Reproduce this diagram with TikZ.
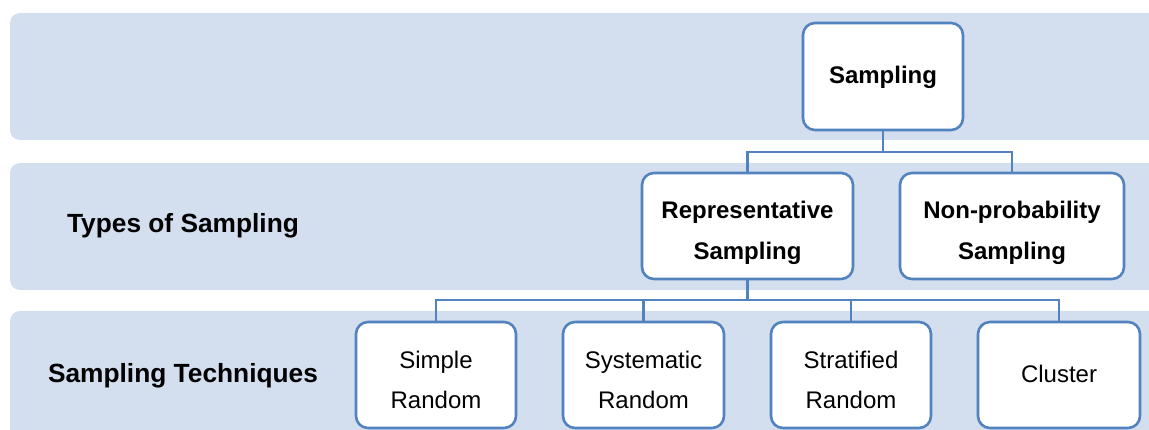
\documentclass[tikz,border=0pt]{standalone}
\usepackage{fontspec}
\setmainfont{Liberation Sans}
\definecolor{bandcol}{RGB}{211,222,238}
\definecolor{edgecol}{RGB}{82,131,190}
\begin{document}
\begin{tikzpicture}[x=1pt,y=-1pt,
  bandbox/.style={fill=bandcol, rounded corners=10pt},
  treebox/.style={draw=edgecol, line width=2.6pt, fill=white, rounded corners=12pt,
    align=center, inner sep=0pt, minimum height=106pt},
  twoline/.style={text height=67pt, text depth=0pt},
  boldtxt/.style={font=\bfseries\fontsize{24}{41}\selectfont},
  regtxt/.style={font=\fontsize{24}{40}\selectfont},
  bandlabel/.style={font=\bfseries\fontsize{26.3}{30}\selectfont, anchor=center},
  conn/.style={draw=edgecol, line width=2.6pt}]
\useasboundingbox (0,0) rectangle (1149,430);
\clip (0,0) rectangle (1149,430);
% bands
\fill[bandbox] (10,13) rectangle (1175,140);
\fill[bandbox] (10,163) rectangle (1175,290);
\fill[bandbox] (10,311) rectangle (1175,470);
% band labels
\node[bandlabel] (lt) at (183,226) {Types of Sampling};
\node[bandlabel] (ls) at (183,376) {Sampling Techniques};
% tree boxes
\node[treebox, boldtxt, minimum width=160pt, minimum height=107pt, text height=20pt, text depth=5pt] (samp) at (883,76.5) {Sampling};
\node[treebox, boldtxt, twoline, minimum width=211pt] (rep) at (747.5,226) {Representative\\Sampling};
\node[treebox, boldtxt, twoline, minimum width=224pt] (nonp) at (1012,226) {Non-probability\\Sampling};
\node[treebox, regtxt, twoline, minimum width=160pt] (simp) at (436,375) {Simple\\Random};
\node[treebox, regtxt, twoline, minimum width=161pt] (syst) at (643.5,375) {Systematic\\Random};
\node[treebox, regtxt, twoline, minimum width=160pt] (strat) at (851,375) {Stratified\\Random};
\node[treebox, regtxt, minimum width=162pt, text height=14pt, text depth=0pt] (clus) at (1059,375) {Cluster};
% junctions
\coordinate (j1) at (883,152);
\coordinate (j2) at (747.5,300);
% connectors
\draw[conn] (samp.south) -- (j1);
\draw[conn] (rep.north) |- (j1) -| (nonp.north);
\draw[conn] (rep.south) -- (j2);
\draw[conn] (simp.north) |- (j2) -| (clus.north);
\draw[conn] (syst.north) |- (j2);
\draw[conn] (strat.north) |- (j2);
\end{tikzpicture}
\end{document}
